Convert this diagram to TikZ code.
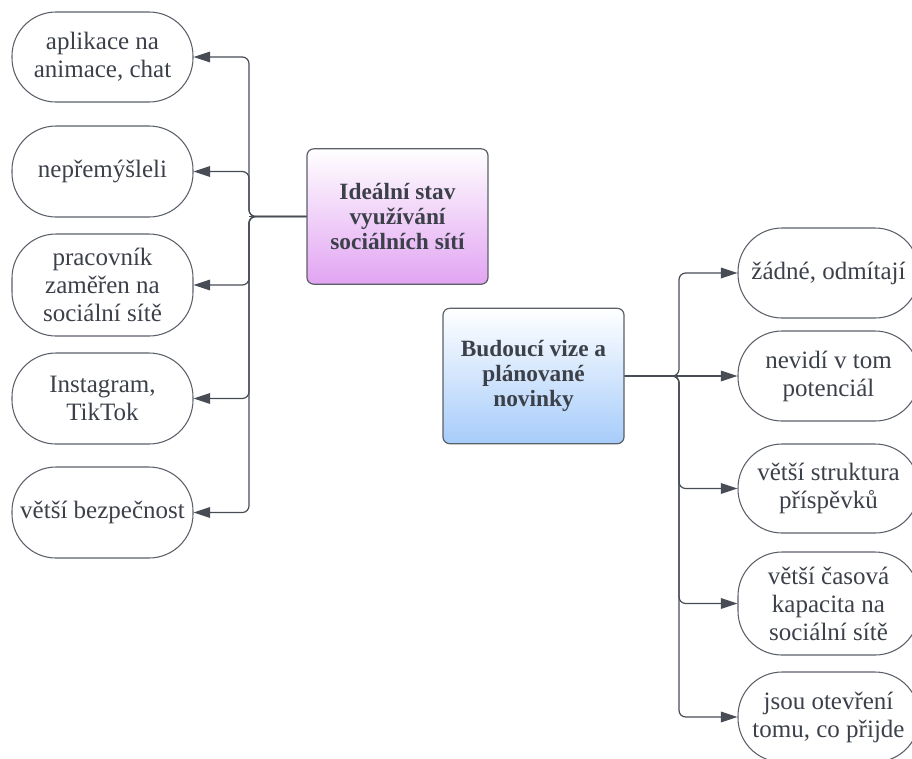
\documentclass[tikz,border=0pt]{standalone}
\usepackage{fontspec}
\setmainfont{Liberation Serif}
\usetikzlibrary{arrows.meta}
\definecolor{ink}{HTML}{3C4049}
\definecolor{edge}{HTML}{5A5F68}
\definecolor{wire}{HTML}{474C55}
\definecolor{violetbot}{HTML}{E2A4F2}
\definecolor{bluebot}{HTML}{A6CCFA}

\begin{document}
\begin{tikzpicture}[x=0.75pt,y=-0.75pt,
  leaf/.style={draw=edge, line width=0.8pt, rounded corners=33pt,
    minimum width=135.75pt, align=center, text=ink, inner sep=0pt,
    font=\fontsize{18.75}{21}\selectfont},
  topic/.style={draw=edge, line width=0.9pt, rounded corners=5pt,
    minimum width=135.75pt, minimum height=101.5pt, align=center, text=ink,
    font=\fontsize{17.5}{18.75}\selectfont\bfseries},
  link/.style={draw=wire, line width=0.9pt, rounded corners=5pt,
    -{Triangle[length=12.5pt,width=8pt]}},
  stem/.style={draw=wire, line width=1.4pt},
]
\useasboundingbox (0,0) rectangle (912,758);

% central topics
\node[topic, top color=white, bottom color=violetbot] (ideal) at (397.5,216.5)
  {Ideální stav\\využívání\\sociálních sítí};
\node[topic, top color=white, bottom color=bluebot] (vize) at (533.5,376)
  {Budoucí vize a\\plánované\\novinky};

% left branch
\node[leaf, minimum height=67.5pt]  (l1) at (102.5,57)    {aplikace na\\animace, chat};
\node[leaf, minimum height=68.25pt] (l2) at (102.5,171.5) {nepřemýšleli};
\node[leaf, minimum height=76.5pt]  (l3) at (102.5,285)   {pracovník\\zaměřen na\\sociální sítě};
\node[leaf, minimum height=68.25pt] (l4) at (102.5,398.5) {Instagram,\\TikTok};
\node[leaf, minimum height=68.25pt] (l5) at (102.5,512.5) {větší bezpečnost};

% right branch
\node[leaf, minimum height=67.5pt]  (r1) at (828.5,273)   {žádné, odmítají};
\node[leaf, minimum height=67.5pt]  (r2) at (828.5,376)   {nevidí v tom\\potenciál};
\node[leaf, minimum height=66.75pt] (r3) at (828.5,488.5) {větší struktura\\příspěvků};
\node[leaf, minimum height=77.25pt] (r4) at (828.5,603.5) {větší časová\\kapacita na\\sociální sítě};
\node[leaf, minimum height=67.5pt]  (r5) at (828.5,717)   {jsou otevření\\tomu, co přijde};

% junction points on the trunks
\coordinate (lj) at (249,216.5);
\coordinate (rj) at (679,376);

\draw[stem] (ideal.west) -- (lj);
\draw[stem] (vize.east) -- (rj);

\foreach \t in {l1,l2,l3,l4,l5}
  \draw[link] (ideal.west) -- (lj) |- (\t.east);
\foreach \t in {r1,r3,r4,r5}
  \draw[link] (vize.east) -- (rj) |- (\t.west);
\draw[link] (vize.east) -- (r2.west);
\end{tikzpicture}
\end{document}
